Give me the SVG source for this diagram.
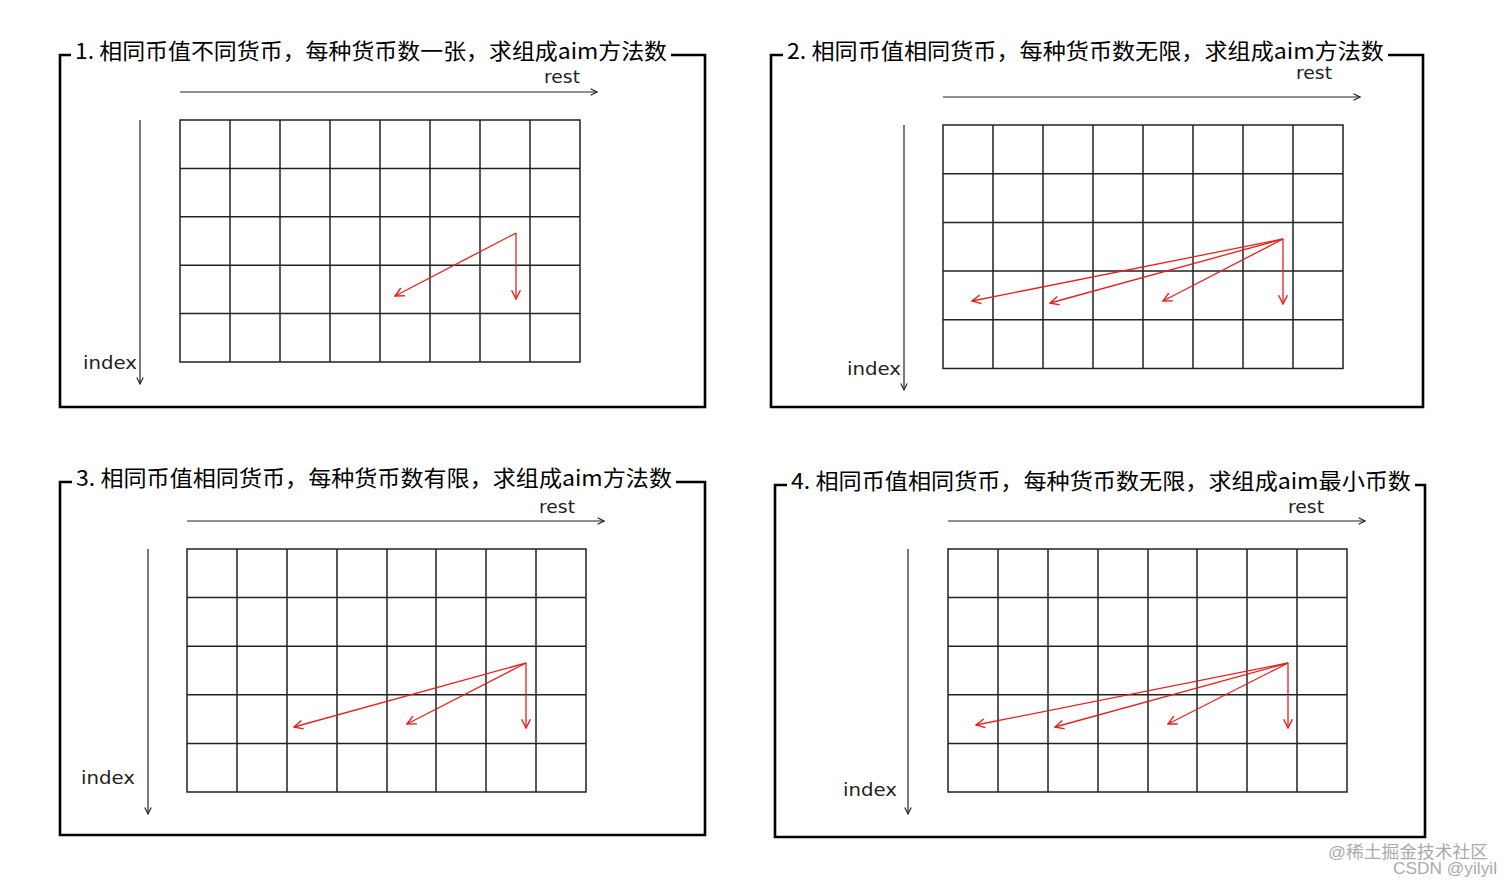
<svg xmlns="http://www.w3.org/2000/svg" width="1512" height="887" viewBox="0 0 1512 887">
<defs>
<style>
.frame{fill:none;stroke:#000;stroke-width:2.6}
.grid{fill:none;stroke:#222;stroke-width:1.5}
.axis{fill:none;stroke:#222;stroke-width:1.2}
.red{fill:none;stroke:#e8201c;stroke-width:1.3}
.title{font-family:"Noto Sans CJK SC","Noto Sans",sans-serif;font-size:22px;fill:#000}
.lbl{font-family:"DejaVu Sans","Liberation Sans",sans-serif;font-size:17px;fill:#222}
.wm{font-family:"Liberation Sans","Noto Sans CJK SC",sans-serif;font-size:17px;fill:#aaa}
</style>
<marker id="ah" viewBox="0 0 10 10" refX="9" refY="5" markerWidth="8" markerHeight="8" markerUnits="userSpaceOnUse" orient="auto"><path d="M1,1 L9,5 L1,9" fill="none" stroke="#222" stroke-width="1.4"/></marker>
<marker id="rh" viewBox="0 0 10 10" refX="9" refY="5" markerWidth="11" markerHeight="11" markerUnits="userSpaceOnUse" orient="auto"><path d="M1,1 L9,5 L1,9" fill="none" stroke="#e8201c" stroke-width="1.3"/></marker>
</defs>
<rect width="1512" height="887" fill="#fff"/>

<g id="panel1">
<path class="frame" d="M71,55 H60 V407 H705 V55 H671"/>
<text class="title" x="75" y="59" textLength="592" lengthAdjust="spacingAndGlyphs">1. 相同币值不同货币，每种货币数一张，求组成aim方法数</text>
<path class="grid" d="M180,120H580V362H180Z M180,168.4H580 M180,216.8H580 M180,265.2H580 M180,313.6H580 M230,120V362 M280,120V362 M330,120V362 M380,120V362 M430,120V362 M480,120V362 M530,120V362"/>
<text class="lbl" x="544" y="83" textLength="36" lengthAdjust="spacingAndGlyphs">rest</text>
<text class="lbl" x="83" y="369" textLength="54" lengthAdjust="spacingAndGlyphs">index</text>
</g>

<g id="panel2">
<path class="frame" d="M783,55 H771 V407 H1423 V55 H1388"/>
<text class="title" x="787" y="59" textLength="597" lengthAdjust="spacingAndGlyphs">2. 相同币值相同货币，每种货币数无限，求组成aim方法数</text>
<path class="grid" d="M943,125H1343V368.5H943Z M943,173.7H1343 M943,222.4H1343 M943,271.1H1343 M943,319.8H1343 M993,125V368.5 M1043,125V368.5 M1093,125V368.5 M1143,125V368.5 M1193,125V368.5 M1243,125V368.5 M1293,125V368.5"/>
<text class="lbl" x="1296" y="79" textLength="36" lengthAdjust="spacingAndGlyphs">rest</text>
<text class="lbl" x="847" y="375" textLength="54" lengthAdjust="spacingAndGlyphs">index</text>
</g>

<g id="panel3">
<path class="frame" d="M72,482 H60 V835 H705 V482 H676"/>
<text class="title" x="76" y="486" textLength="596" lengthAdjust="spacingAndGlyphs">3. 相同币值相同货币，每种货币数有限，求组成aim方法数</text>
<path class="grid" d="M187,549H586V792H187Z M187,597.6H586 M187,646.2H586 M187,694.8H586 M187,743.4H586 M237,549V792 M287,549V792 M337,549V792 M387,549V792 M436,549V792 M486,549V792 M536,549V792"/>
<text class="lbl" x="539" y="513" textLength="36" lengthAdjust="spacingAndGlyphs">rest</text>
<text class="lbl" x="81" y="784" textLength="54" lengthAdjust="spacingAndGlyphs">index</text>
</g>

<g id="panel4">
<path class="frame" d="M787,485 H775 V837 H1425 V485 H1415"/>
<text class="title" x="791" y="489" textLength="620" lengthAdjust="spacingAndGlyphs">4. 相同币值相同货币，每种货币数无限，求组成aim最小币数</text>
<path class="grid" d="M948,549H1347V792H948Z M948,597.6H1347 M948,646.2H1347 M948,694.8H1347 M948,743.4H1347 M998,549V792 M1048,549V792 M1098,549V792 M1148,549V792 M1197,549V792 M1247,549V792 M1297,549V792"/>
<text class="lbl" x="1288" y="513" textLength="36" lengthAdjust="spacingAndGlyphs">rest</text>
<text class="lbl" x="843" y="796" textLength="54" lengthAdjust="spacingAndGlyphs">index</text>
</g>

<g id="connectors">
<path class="axis" marker-end="url(#ah)" d="M180,92 H597"/>
<path class="axis" marker-end="url(#ah)" d="M140,120 V384"/>
<path class="axis" marker-end="url(#ah)" d="M943,97 H1360"/>
<path class="axis" marker-end="url(#ah)" d="M904,125 V390"/>
<path class="axis" marker-end="url(#ah)" d="M187,521 H604"/>
<path class="axis" marker-end="url(#ah)" d="M148,549 V814"/>
<path class="axis" marker-end="url(#ah)" d="M948,521 H1365"/>
<path class="axis" marker-end="url(#ah)" d="M908,549 V814"/>

<path class="red" marker-end="url(#rh)" d="M516,233 L395,296"/>
<path class="red" marker-end="url(#rh)" d="M516,233 L516,299"/>

<path class="red" marker-end="url(#rh)" d="M1283,239 L972,301"/>
<path class="red" marker-end="url(#rh)" d="M1283,239 L1050,303"/>
<path class="red" marker-end="url(#rh)" d="M1283,239 L1163,301"/>
<path class="red" marker-end="url(#rh)" d="M1283,239 L1283,304"/>

<path class="red" marker-end="url(#rh)" d="M526,663 L294,727"/>
<path class="red" marker-end="url(#rh)" d="M526,663 L407,724"/>
<path class="red" marker-end="url(#rh)" d="M526,663 L526,728"/>

<path class="red" marker-end="url(#rh)" d="M1288,663 L976,725"/>
<path class="red" marker-end="url(#rh)" d="M1288,663 L1055,727"/>
<path class="red" marker-end="url(#rh)" d="M1288,663 L1168,724"/>
<path class="red" marker-end="url(#rh)" d="M1288,663 L1288,728"/>
</g>

<text class="wm" x="1328" y="858" textLength="160" lengthAdjust="spacingAndGlyphs">@稀土掘金技术社区</text>
<text class="wm" x="1393" y="874" textLength="104" lengthAdjust="spacingAndGlyphs">CSDN @yilyil</text>
</svg>
